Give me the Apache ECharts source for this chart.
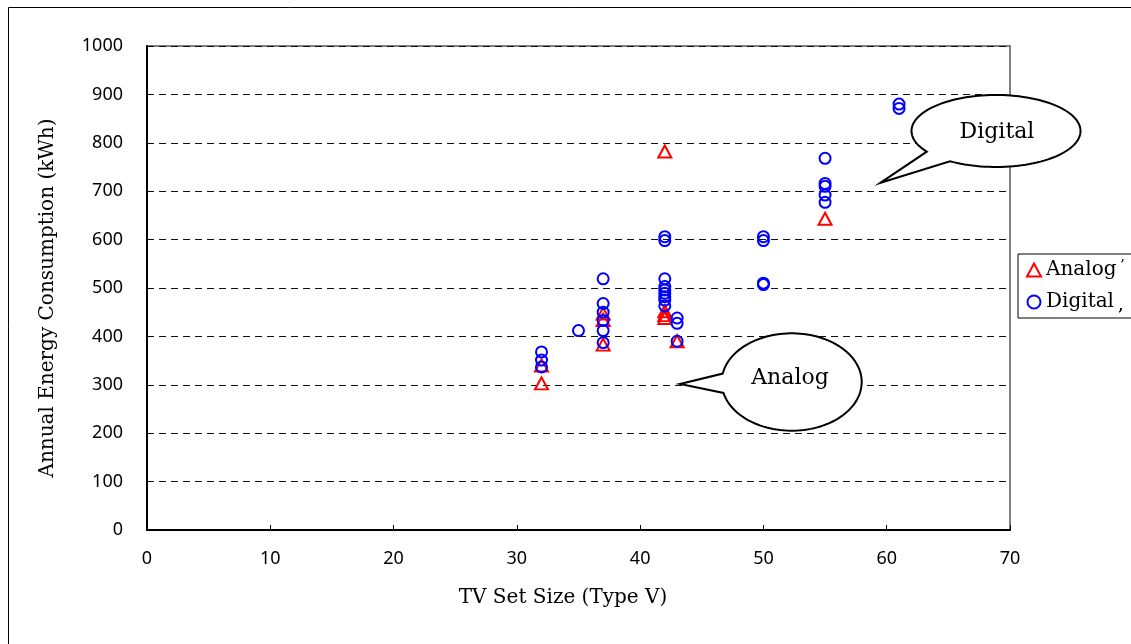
<!DOCTYPE html>
<html>
<head>
<meta charset="utf-8">
<script src="https://cdn.jsdelivr.net/npm/echarts@6/dist/echarts.min.js"></script>
<style>
  html, body { margin: 0; padding: 0; background: #fff; }
  #chart { width: 1131px; height: 644px; }
</style>
</head>
<body>
<div id="chart"></div>
<script>
// TV set size (type V) and annual energy consumption (kWh) for each model
const analogSize = [32, 32, 37, 37, 37, 42, 42, 42, 42, 43, 55];
const analogKWh  = [340, 303, 447, 434, 383, 782, 452, 444, 438, 390, 643];

const digitalSize = [32, 32, 32, 35, 37, 37, 37, 37, 37, 37,
                     42, 42, 42, 42, 42, 42, 42, 42, 42,
                     43, 43, 43, 50, 50, 50, 50,
                     55, 55, 55, 55, 55, 61, 61];
const digitalKWh  = [368, 351, 337, 412, 519, 468, 450, 433, 412, 387,
                     606, 598, 519, 503, 496, 489, 482, 475, 463,
                     438, 427, 390, 606, 598, 510, 507,
                     768, 716, 710, 692, 677, 880, 871];

const xTicks = { min: 0, max: 70, interval: 10 };
const yTicks = { min: 0, max: 1000, interval: 100 };

const serif = '"DejaVu Serif", "Liberation Serif", serif';
const sans = '"Noto Sans", "DejaVu Sans", sans-serif';

// Speech bubble: ellipse outline with a pointed tail, built as one polygon
function bubble(cx, cy, rx, ry, tA, tB, tip) {
  const pts = [tip];
  const start = tB * Math.PI / 180;
  const end = (tA + 360) * Math.PI / 180;
  const steps = 120;
  for (let i = 0; i <= steps; i++) {
    const t = start + (end - start) * i / steps;
    pts.push([cx + rx * Math.cos(t), cy + ry * Math.sin(t)]);
  }
  return pts;
}

const chart = echarts.init(document.getElementById('chart'), null, { renderer: 'canvas' });

const option = {
  animation: false,
  backgroundColor: '#fff',
  grid: {
    left: 147, top: 46, right: 121, bottom: 114,
    show: true, borderColor: '#808080', borderWidth: 2, backgroundColor: 'transparent'
  },
  xAxis: {
    type: 'value',
    min: xTicks.min, max: xTicks.max, interval: xTicks.interval,
    axisLine: { show: true, onZero: false, lineStyle: { color: '#000', width: 2 } },
    axisTick: { show: true, inside: true, length: 5, lineStyle: { color: '#000', width: 1 } },
    axisLabel: { color: '#000', fontFamily: sans, fontSize: 18, margin: 20,
                 formatter: v => String(v) },
    splitLine: { show: false }
  },
  yAxis: {
    type: 'value',
    min: yTicks.min, max: yTicks.max, interval: yTicks.interval,
    axisLine: { show: true, onZero: false, lineStyle: { color: '#000', width: 2 } },
    axisTick: { show: true, inside: true, length: 5, lineStyle: { color: '#000', width: 1 } },
    axisLabel: { color: '#000', fontFamily: sans, fontSize: 18, margin: 24,
                 formatter: v => String(v) },
    splitLine: { show: true, lineStyle: { color: '#111', width: 1, type: [7, 5] } }
  },
  legend: {
    orient: 'vertical',
    left: 1018, top: 254,
    padding: [5, 24, 5, 8],
    itemGap: 10,
    itemWidth: 14, itemHeight: 13,
    borderColor: '#000', borderWidth: 1,
    backgroundColor: '#fff',
    textStyle: { color: '#000', fontFamily: serif, fontSize: 20, lineHeight: 22 },
    data: ['Analog', 'Digital']
  },
  series: [
    {
      name: 'Analog', type: 'scatter',
      symbol: 'triangle', symbolSize: [13, 12],
      itemStyle: { color: 'rgba(0,0,0,0)', borderColor: '#ff0000', borderWidth: 2, opacity: 1 },
      emphasis: { disabled: true },
      data: analogSize.map((s, i) => [s, analogKWh[i]]),
      z: 3
    },
    {
      name: 'Digital', type: 'scatter',
      symbol: 'circle', symbolSize: 11,
      itemStyle: { color: 'rgba(0,0,0,0)', borderColor: '#0000ff', borderWidth: 2, opacity: 1 },
      emphasis: { disabled: true },
      data: digitalSize.map((s, i) => [s, digitalKWh[i]]),
      z: 4
    }
  ],
  graphic: [
    // outer frame of the figure
    { type: 'rect', shape: { x: 8.5, y: 7.5, width: 1200, height: 700 },
      style: { fill: 'none', stroke: '#000', lineWidth: 1 }, z: 0, silent: true },
    // axis titles
    { type: 'text', x: 563, y: 598,
      style: { text: 'TV Set Size (Type V)', font: '20px ' + serif, fill: '#000',
               align: 'center', verticalAlign: 'middle' }, silent: true },
    { type: 'text', x: 48, y: 298, rotation: Math.PI / 2,
      style: { text: 'Annual Energy Consumption (kWh)', font: '20px ' + serif, fill: '#000',
               align: 'center', verticalAlign: 'middle' }, silent: true },
    // callouts
    { type: 'polygon', z: 10, silent: true,
      shape: { points: bubble(996, 131, 84.5, 36, 123, 145, [880.7, 182.7]) },
      style: { fill: '#fff', stroke: '#000', lineWidth: 2 } },
    { type: 'text', z: 11, x: 997, y: 132, silent: true,
      style: { text: 'Digital', font: '22px ' + serif, fill: '#000',
               align: 'center', verticalAlign: 'middle' } },
    { type: 'polygon', z: 10, silent: true,
      shape: { points: bubble(791.7, 382, 70, 48.7, 167, 190, [680, 384]) },
      style: { fill: '#fff', stroke: '#000', lineWidth: 2 } },
    { type: 'text', z: 11, x: 790, y: 378, silent: true,
      style: { text: 'Analog', font: '22px ' + serif, fill: '#000',
               align: 'center', verticalAlign: 'middle' } },
    // trailing marks in the legend box
    { type: 'text', z: 20, x: 1122, y: 266, silent: true,
      style: { text: '\u02BC', font: '14px ' + serif, fill: '#000',
               align: 'center', verticalAlign: 'middle' } },
    { type: 'text', z: 20, x: 1121, y: 306, silent: true,
      style: { text: ',', font: 'bold 14px ' + serif, fill: '#000',
               align: 'center', verticalAlign: 'middle' } }
  ]
};

chart.setOption(option);
</script>
</body>
</html>
